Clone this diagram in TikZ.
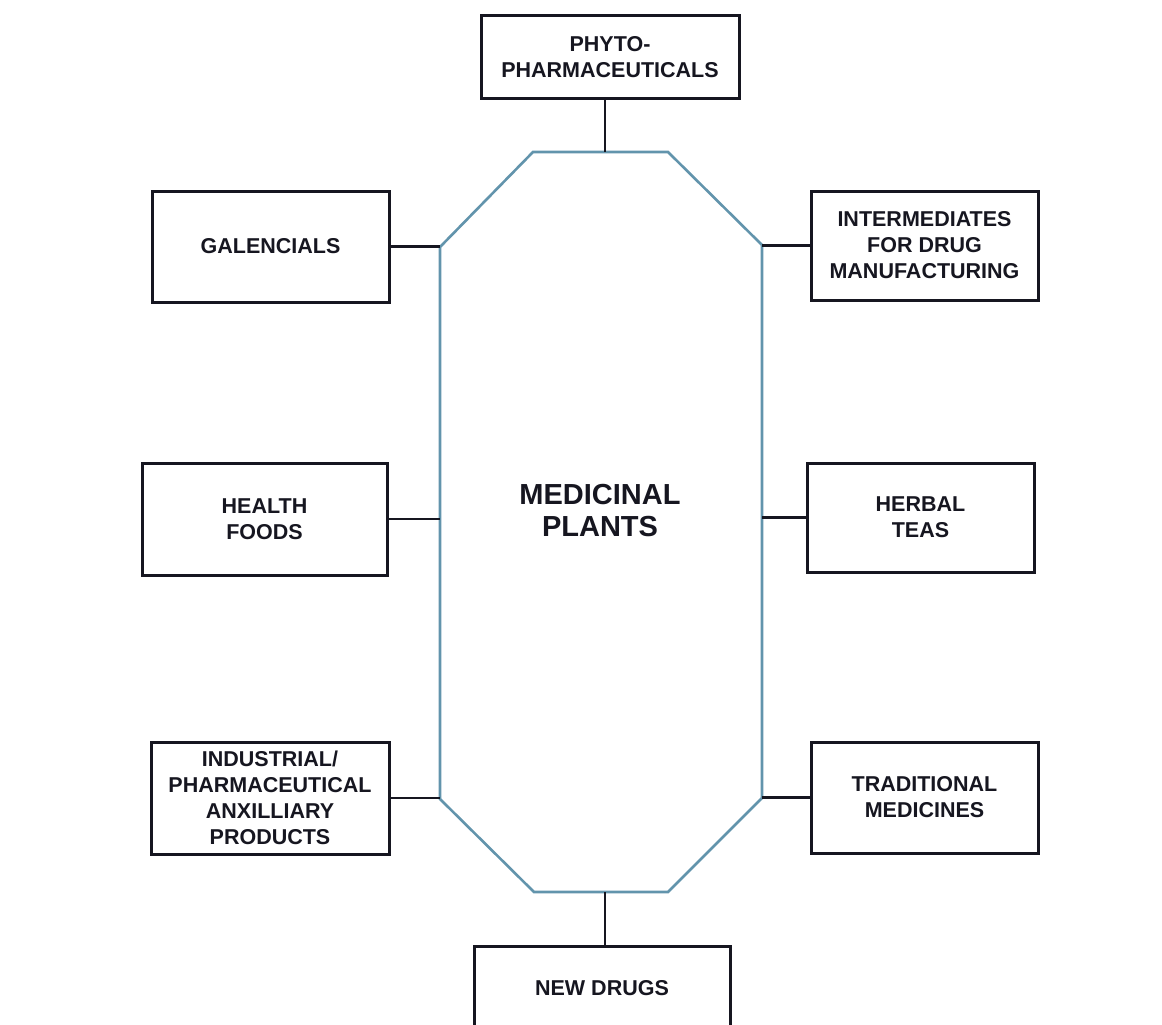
\documentclass[tikz,border=0pt]{standalone}
\usepackage{fontspec}
\setmainfont{Liberation Sans}
\definecolor{octo}{RGB}{98,148,172}
\definecolor{ink}{RGB}{22,22,32}
\begin{document}
\begin{tikzpicture}[x=1pt,y=-1pt,
  box/.style={draw=ink,line width=3pt,rectangle,align=center,inner sep=0pt,
    font=\fontsize{21.5}{26}\selectfont\bfseries,text=ink},
  link/.style={draw=ink,line width=2.6pt},
  octoline/.style={draw=octo,line width=2.6pt,line join=miter}]
\useasboundingbox (0,0) rectangle (1162,1025);
\clip (0,0) rectangle (1162,1025);
% octagon corners
\coordinate (tl) at (533,152);
\coordinate (tr) at (668,152);
\coordinate (ur) at (762,245);
\coordinate (lr) at (762,798);
\coordinate (br) at (668,892);
\coordinate (bl) at (534,892);
\coordinate (ll) at (440,799);
\coordinate (ul) at (440,247);
\coordinate (topmid) at (605,152);
\coordinate (botmid) at (605,892);
\coordinate (midl) at (440,521);
\coordinate (midr) at (762,519);
\draw[octoline] (tl) -- (tr) -- (ur) -- (lr) -- (br) -- (bl) -- (ll) -- (ul) -- cycle;
\node[font=\fontsize{29}{32}\selectfont\bfseries,text=ink,align=center] (center) at (600,511) {MEDICINAL\\PLANTS};
% boxes
\node[box,minimum width=258pt,minimum height=82pt] (phyto) at (610,57) {PHYTO-\\PHARMACEUTICALS};
\node[box,minimum width=237pt,minimum height=111pt] (gal) at (270.5,246.5) {GALENCIALS};
\node[box,minimum width=227pt,minimum height=109pt] (inter) at (924.5,245.5) {INTERMEDIATES\\FOR DRUG\\MANUFACTURING};
\node[box,minimum width=245pt,minimum height=112pt] (health) at (264.5,519) {HEALTH\\FOODS};
\node[box,minimum width=227pt,minimum height=109pt] (herbal) at (920.5,517.5) {HERBAL\\TEAS};
\node[box,minimum width=238pt,minimum height=112pt] (indus) at (270,798) {INDUSTRIAL/\\PHARMACEUTICAL\\ANXILLIARY\\PRODUCTS};
\node[box,minimum width=227pt,minimum height=111pt] (trad) at (924.5,797.5) {TRADITIONAL\\MEDICINES};
\node[box,minimum width=256pt,minimum height=84pt] (newd) at (602,988.5) {NEW DRUGS};
% connectors
\draw[link] (phyto.south -| topmid) -- (topmid);
\draw[link] (newd.north -| botmid) -- (botmid);
\draw[link] (gal.east) -- (gal.east -| ul);
\draw[link] (health.east) -- (health.east -| midl);
\draw[link] (indus.east) -- (indus.east -| ll);
\draw[link] (inter.west) -- (inter.west -| ur);
\draw[link] (herbal.west) -- (herbal.west -| midr);
\draw[link] (trad.west) -- (trad.west -| lr);
\end{tikzpicture}
\end{document}
